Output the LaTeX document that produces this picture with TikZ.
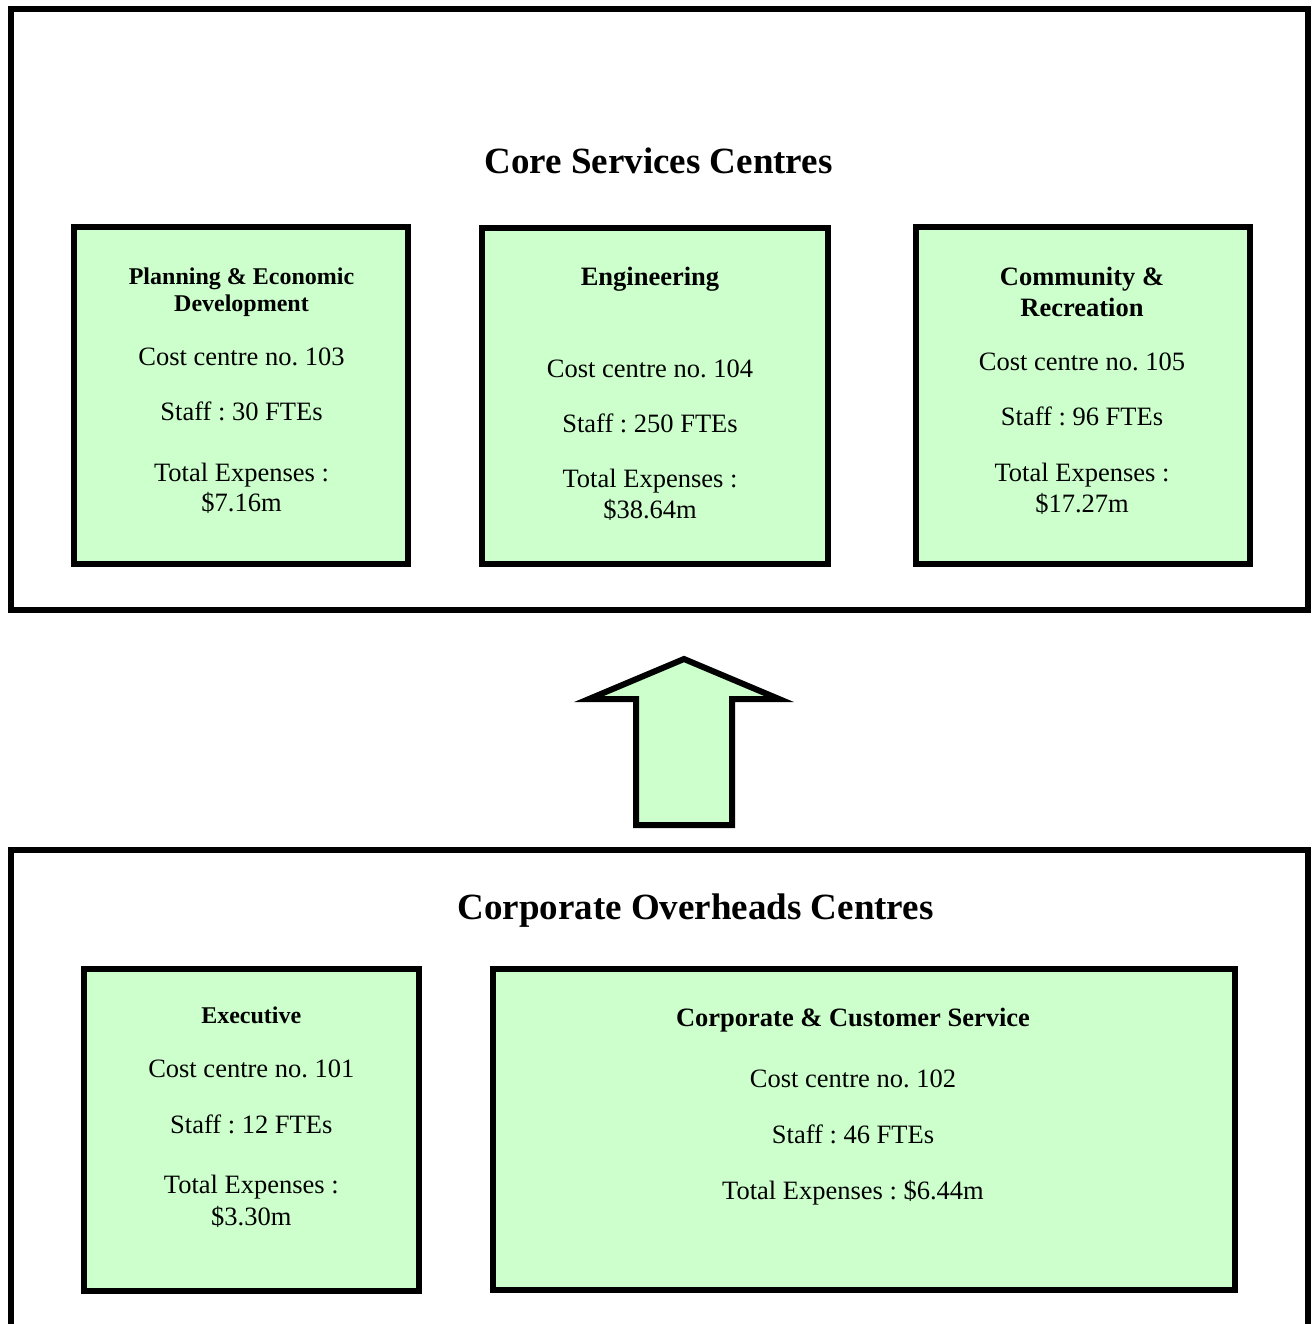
\documentclass[tikz,border=0pt]{standalone}
\usepackage{fontspec}
\setmainfont{Liberation Serif}
\usepackage{xcolor}
\usepackage{tikz}

\definecolor{cellgreen}{HTML}{CCFFCC}

\tikzset{
  frame/.style={draw, line width=6pt, rectangle, inner sep=0pt},
  cellbox/.style={frame, fill=cellgreen},
  heading/.style={anchor=base, inner sep=0pt, font=\fontsize{37}{44}\selectfont\bfseries},
  cctitle/.style={anchor=base, inner sep=0pt, font=\fontsize{26.5}{32}\selectfont\bfseries},
  cctitlesm/.style={anchor=base, inner sep=0pt, font=\fontsize{24}{29}\selectfont\bfseries},
  ccline/.style={anchor=base, inner sep=0pt, font=\fontsize{26.5}{32}\selectfont}
}

\frenchspacing

\begin{document}
\begin{tikzpicture}[x=1pt, y=-1pt]
        \clip (0, 0) rectangle (1314, 1324);
        \fill[white] (0, 0) rectangle (1314, 1324);

        % outer frames
        \node[frame, minimum width=1297pt, minimum height=600.5pt] (core) at (659.5, 309.25) {};
        \node[frame, minimum width=1297pt, minimum height=490.5pt] (over) at (659.5, 1094.75) {};

        \node[heading] (coreT) at (658.5, 174) {Core Services Centres};
        \node[heading] (overT) at (695.5, 919) {Corporate Overheads Centres};

        % core service centres
        \node[cellbox, minimum width=334pt, minimum height=336pt] (plan) at (241, 395.5) {};
        \node[cellbox, minimum width=345.5pt, minimum height=335.5pt] (eng) at (654.75, 395.75) {};
        \node[cellbox, minimum width=334pt, minimum height=336pt] (comm) at (1083, 395.5) {};

        \node[cctitlesm] (planA) at (241.5, 284) {Planning \& Economic};
        \node[cctitlesm] (planB) at (241.5, 311) {Development};
        \node[ccline] (planC) at (241.5, 365) {Cost centre no. 103};
        \node[ccline] (planD) at (241.5, 420) {Staff : 30 FTEs};
        \node[ccline] (planE) at (241.5, 481) {Total Expenses :};
        \node[ccline] (planF) at (241.5, 511) {\$7.16m};

        \node[cctitle] (engA) at (650, 285) {Engineering};
        \node[ccline] (engC) at (650, 377.7) {Cost centre no. 104};
        \node[ccline] (engD) at (650, 432.7) {Staff : 250 FTEs};
        \node[ccline] (engE) at (650, 487.7) {Total Expenses :};
        \node[ccline] (engF) at (650, 518) {\$38.64m};

        \node[cctitle] (commA) at (1082, 285) {Community \&};
        \node[cctitle] (commB) at (1082, 316.7) {Recreation};
        \node[ccline] (commC) at (1082, 370) {Cost centre no. 105};
        \node[ccline] (commD) at (1082, 425.7) {Staff : 96 FTEs};
        \node[ccline] (commE) at (1082, 481) {Total Expenses :};
        \node[ccline] (commF) at (1082, 512) {\$17.27m};

        % corporate overheads centres
        \node[cellbox, minimum width=335pt, minimum height=322pt] (exec) at (251, 1130) {};
        \node[cellbox, minimum width=742pt, minimum height=321pt] (corp) at (864, 1129.5) {};

        \node[cctitlesm] (execA) at (251.3, 1023.3) {Executive};
        \node[ccline] (execC) at (251.3, 1077) {Cost centre no. 101};
        \node[ccline] (execD) at (251.3, 1133) {Staff : 12 FTEs};
        \node[ccline] (execE) at (251.3, 1193) {Total Expenses :};
        \node[ccline] (execF) at (251.3, 1225) {\$3.30m};

        \node[cctitle] (corpA) at (853, 1026) {Corporate \& Customer Service};
        \node[ccline] (corpC) at (853, 1087.7) {Cost centre no. 102};
        \node[ccline] (corpD) at (853, 1143.3) {Staff : 46 FTEs};
        \node[ccline] (corpE) at (853, 1199) {Total Expenses : \$6.44m};

        % block arrow
        \draw[line width=6pt, fill=cellgreen]
          (636, 825) -- (636, 699) -- (589, 699) -- (684, 659)
          -- (779, 699) -- (732, 699) -- (732, 825) -- cycle;
      \end{tikzpicture}
\end{document}
